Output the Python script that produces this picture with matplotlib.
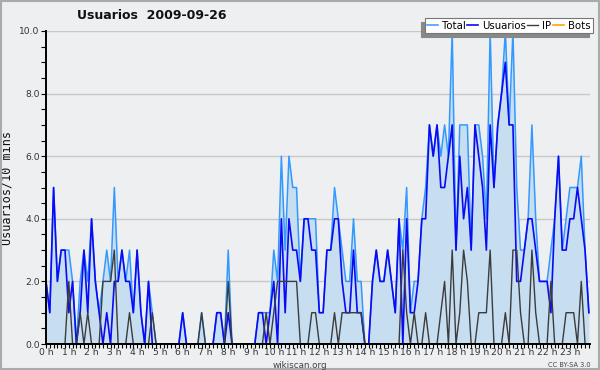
import matplotlib
matplotlib.use("Agg")
import matplotlib.pyplot as plt
from matplotlib.patches import Rectangle

# one value every 10 minutes, 144 points (00:00 -> 23:50)
total = [2, 1, 5, 2, 3, 3, 3, 2, 0, 2, 3, 2,
         4, 2, 1, 2, 3, 2, 5, 2, 3, 2, 3, 1,
         3, 1, 0, 2, 1, 0, 0, 0, 0, 0, 0, 0,
         1, 0, 0, 0, 0, 1, 0, 0, 0, 1, 1, 0,
         3, 0, 0, 0, 0, 0, 0, 0, 1, 1, 1, 1,
         3, 2, 6, 3, 6, 5, 5, 2, 4, 4, 4, 4,
         1, 1, 3, 3, 5, 4, 3, 2, 2, 4, 2, 2,
         0, 0, 2, 3, 2, 2, 3, 2, 1, 4, 3, 5,
         1, 2, 2, 4, 5, 7, 6, 7, 6, 7, 6, 10,
         3, 7, 7, 7, 3, 7, 7, 6, 4, 10, 5, 7,
         8, 10, 7, 10, 5, 3, 3, 4, 7, 4, 2, 2,
         2, 3, 4, 6, 3, 4, 5, 5, 5, 6, 3, 1]

usuarios = [2, 1, 5, 2, 3, 3, 1, 2, 0, 1, 3, 1,
            4, 2, 1, 0, 1, 0, 2, 2, 3, 2, 2, 1,
            3, 1, 0, 2, 0, 0, 0, 0, 0, 0, 0, 0,
            1, 0, 0, 0, 0, 0, 0, 0, 0, 1, 1, 0,
            1, 0, 0, 0, 0, 0, 0, 0, 1, 1, 0, 1,
            2, 0, 4, 1, 4, 3, 3, 2, 4, 4, 3, 3,
            1, 1, 3, 3, 4, 4, 2, 1, 1, 3, 1, 1,
            0, 0, 2, 3, 2, 2, 3, 2, 1, 4, 0, 4,
            1, 1, 2, 4, 4, 7, 6, 7, 5, 5, 6, 7,
            3, 6, 4, 5, 3, 7, 6, 5, 3, 7, 5, 7,
            8, 9, 7, 7, 2, 2, 3, 4, 4, 3, 2, 2,
            2, 1, 4, 6, 3, 3, 4, 4, 5, 4, 3, 1]

ip = [0, 0, 0, 0, 0, 0, 2, 0, 0, 1, 0, 1,
      0, 0, 0, 2, 2, 2, 3, 0, 0, 0, 1, 0,
      0, 0, 0, 0, 1, 0, 0, 0, 0, 0, 0, 0,
      0, 0, 0, 0, 0, 1, 0, 0, 0, 0, 0, 0,
      2, 0, 0, 0, 0, 0, 0, 0, 0, 0, 1, 0,
      1, 2, 2, 2, 2, 2, 2, 0, 0, 0, 1, 1,
      0, 0, 0, 0, 1, 0, 1, 1, 1, 1, 1, 1,
      0, 0, 0, 0, 0, 0, 0, 0, 0, 0, 3, 1,
      0, 1, 0, 0, 1, 0, 0, 0, 1, 2, 0, 3,
      0, 1, 3, 2, 0, 0, 1, 1, 1, 3, 0, 0,
      0, 1, 0, 3, 3, 1, 0, 0, 3, 1, 0, 0,
      0, 2, 0, 0, 0, 1, 1, 1, 0, 2, 0, 0]

bots = [0] * 144

hour_labels = ["0 h", "1 h", "2 h", "3 h", "4 h", "5 h", "6 h", "7 h",
               "8 h", "9 h", "10 h", "11 h", "12 h", "13 h", "14 h", "15 h",
               "16 h", "17 h", "18 h", "19 h", "20 h", "21 h", "22 h", "23 h"]
y_ticks = [0, 2, 4, 6, 8, 10]

bg = "#eeeff1"
x = list(range(len(total)))

fig = plt.figure(figsize=(6, 3.7), dpi=100, facecolor=bg)
ax = fig.add_axes([46 / 600, 1 - 344 / 370, 544 / 600, 313 / 370])
ax.set_facecolor(bg)

# zone remplie sous le total
ax.fill_between(x, total, 0, color="#c7ddf0", linewidth=0, zorder=1)
ax.plot(x, bots, color="#ffa500", linewidth=1, zorder=1.5)
ax.plot(x, total, color="#3399ff", linewidth=1.1, label="Total", zorder=2)
ax.plot(x, usuarios, color="#0a0af5", linewidth=1.2, label="Usuarios", zorder=2.1)
ax.plot(x, ip, color="#3c3c3c", linewidth=1.0, label="IP", zorder=2.2)
# ligne fantôme pour la légende des bots
ax.plot([], [], color="#ffa500", linewidth=1.2, label="Bots")

ax.set_xlim(0, 143.3)
ax.set_ylim(0, 10)

ax.set_yticks(y_ticks)
ax.set_yticklabels([f"{v:.1f}" for v in y_ticks])
ax.set_yticks([v / 2 for v in range(21)], minor=True)
ax.set_xticks([h * 6 for h in range(24)])
ax.set_xticklabels(hour_labels)
ax.set_xticks(x, minor=True)

ax.tick_params(axis="both", which="both", direction="out", length=3.5, width=0.8,
               color="black", labelsize=6.6, labelcolor="#333333", pad=1)
ax.tick_params(axis="x", which="both", length=3, pad=0)

ax.grid(axis="y", color="#c8c8c8", linewidth=1)
ax.set_axisbelow(True)
for side in ["top", "right"]:
    ax.spines[side].set_visible(False)
ax.spines["left"].set_linewidth(1.4)
ax.spines["bottom"].set_linewidth(1.4)
ax.spines["left"].set_zorder(5)
ax.spines["bottom"].set_zorder(5)

ax.set_ylabel("Usuarios/10 mins", family="DejaVu Sans Mono", fontsize=8.5,
              color="#111111", labelpad=4)

fig.text(0.253, 0.958, "Usuarios  2009-09-26", ha="center", va="center",
         fontsize=9, fontweight="bold", color="#111111")
fig.text(0.5, 0.013, "wikiscan.org", ha="center", va="center",
         fontsize=6.3, color="#444444")
fig.text(0.985, 0.013, "CC BY-SA 3.0", ha="right", va="center",
         fontsize=4.8, color="#444444")

leg = ax.legend(loc="upper right", bbox_to_anchor=(593 / 600, 1 - 18 / 370),
                bbox_transform=fig.transFigure, ncol=4, fontsize=7.3,
                frameon=True, fancybox=False, borderpad=0.25,
                handlelength=1.1, handletextpad=0.4, columnspacing=0.1,
                borderaxespad=0,
                shadow={"ox": -3, "oy": -3, "color": "#888888", "alpha": 1})
leg.get_frame().set_edgecolor("#777777")
leg.get_frame().set_linewidth(0.8)
leg.get_frame().set_facecolor("white")
leg.get_frame().set_alpha(1)

# cadre gris autour de l'image
fig.patches.append(Rectangle((0.0015, 0.0025), 0.997, 0.995, transform=fig.transFigure,
                             fill=False, edgecolor="#aaaaaa", linewidth=1.5))

fig.savefig("out.png", dpi=100, facecolor=bg)
